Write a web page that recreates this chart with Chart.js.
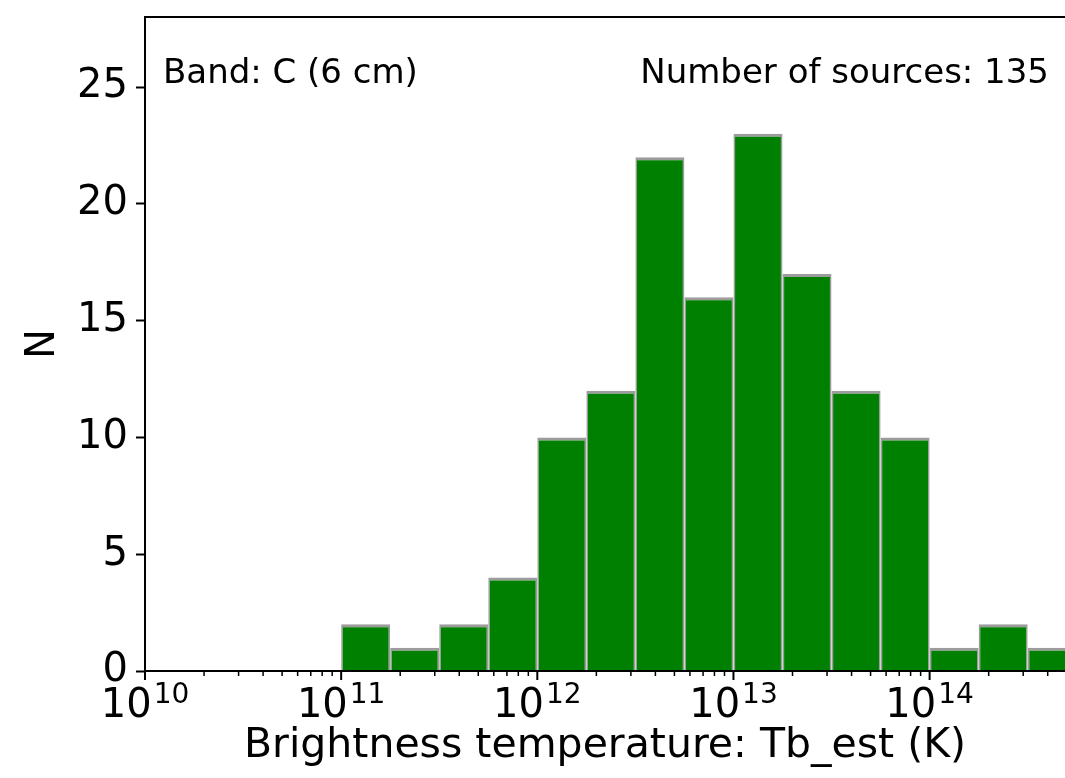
<!DOCTYPE html>
<html>
<head>
<meta charset="utf-8">
<script src="https://cdn.jsdelivr.net/npm/chart.js@4"></script>
<style>
  body { margin: 0; background: #fff; }
  canvas { display: block; }
</style>
</head>
<body>
<canvas id="histChart" width="1065" height="778"></canvas>
<script>
// histogram bin edges, in log10(Tb / K)
var binEdges = [11.0, 11.25, 11.5, 11.75, 12.0, 12.25, 12.5, 12.75, 13.0, 13.25, 13.5, 13.75, 14.0, 14.25, 14.5, 14.75];
var counts = [2, 1, 2, 4, 10, 12, 22, 16, 23, 17, 12, 10, 1, 2, 1];
var decades = [10, 11, 12, 13, 14];
var yTicks = [0, 5, 10, 15, 20, 25];
var xMin = 1e10, xMax = 4.9e14, yMax = 28;
var bandLabel = 'Band: C (6 cm)';
var sourcesLabel = 'Number of sources: 135';
var xTitle = 'Brightness temperature: Tb_est (K)';
var yTitle = 'N';

Chart.defaults.font.family = '"DejaVu Sans"';
Chart.defaults.color = '#000';

// one bar per bin, placed at the log-centre of the bin
var points = [];
for (var i = 0; i < counts.length; i++) {
    points.push({ x: Math.pow(10, (binEdges[i] + binEdges[i + 1]) / 2), y: counts[i] });
}

var extras = {
    id: 'extras',
    afterDraw: function (chart) {
        var ctx = chart.ctx, area = chart.chartArea, xs = chart.scales.x;
        ctx.save();
        ctx.strokeStyle = '#000';
        ctx.fillStyle = '#000';

        // top spine
        ctx.lineWidth = 2;
        ctx.beginPath();
        ctx.moveTo(area.left - 1, area.top);
        ctx.lineTo(area.right, area.top);
        ctx.stroke();

        // x ticks: major at decades, minor at 2..9
        decades.forEach(function (e) {
            for (var m = 1; m <= 9; m++) {
                var v = m * Math.pow(10, e);
                if (v < xMin || v > xMax) continue;
                var px = xs.getPixelForValue(v);
                ctx.lineWidth = m === 1 ? 2 : 1.5;
                ctx.beginPath();
                ctx.moveTo(px, area.bottom);
                ctx.lineTo(px, area.bottom + (m === 1 ? 9 : 5));
                ctx.stroke();
            }
        });

        // x tick labels as 10^e
        ctx.textBaseline = 'alphabetic';
        ctx.textAlign = 'left';
        decades.forEach(function (e) {
            var px = xs.getPixelForValue(Math.pow(10, e));
            ctx.font = '40px "DejaVu Sans"';
            var wBase = ctx.measureText('10').width;
            ctx.font = '28px "DejaVu Sans"';
            var wExp = ctx.measureText(String(e)).width;
            var x0 = px - (wBase + 2 + wExp) / 2;
            ctx.font = '40px "DejaVu Sans"';
            ctx.fillText('10', x0, area.bottom + 46);
            ctx.font = '28px "DejaVu Sans"';
            ctx.fillText(String(e), x0 + wBase + 2, area.bottom + 32);
        });

        // annotations
        ctx.font = '34px "DejaVu Sans"';
        ctx.fillText(bandLabel, area.left + 18, area.top + 66);
        ctx.textAlign = 'right';
        ctx.fillText(sourcesLabel, area.right - 16, area.top + 66);
        ctx.restore();
    }
};

new Chart(document.getElementById('histChart'), {
    type: 'bar',
    data: {
        datasets: [{
            data: points,
            backgroundColor: '#008000',
            borderColor: '#9c9c9c',
            borderWidth: { top: 3, left: 1.6, right: 1.6, bottom: 0 },
            borderSkipped: 'start',
            inflateAmount: 0,
            barPercentage: 1,
            categoryPercentage: 1
        }]
    },
    options: {
        responsive: false,
        animation: false,
        devicePixelRatio: 1,
        layout: { padding: { top: 17, left: 0, right: 0, bottom: 0 } },
        plugins: {
            legend: { display: false },
            tooltip: { enabled: false }
        },
        scales: {
            x: {
                type: 'logarithmic',
                min: xMin,
                max: xMax,
                offset: false,
                grid: { display: false },
                border: { display: true, color: '#000', width: 2, z: 1 },
                ticks: { display: false },
                afterBuildTicks: function (scale) {
                    scale.ticks = decades.map(function (e) { return { value: Math.pow(10, e), major: true }; });
                },
                afterFit: function (scale) {
                    scale.height = 107;
                    scale.paddingLeft = 0;
                    scale.paddingRight = 0;
                },
                title: {
                    display: true,
                    text: xTitle,
                    color: '#000',
                    font: { size: 41 },
                    padding: { top: 0, bottom: 7 }
                }
            },
            y: {
                min: 0,
                max: yMax,
                ticks: { font: { size: 40 }, color: '#000', padding: 8, includeBounds: false },
                afterBuildTicks: function (scale) {
                    scale.ticks = yTicks.map(function (v) { return { value: v }; });
                },
                grid: { drawOnChartArea: false, drawTicks: true, tickLength: 9, tickColor: '#000', tickWidth: 2 },
                border: { color: '#000', width: 2, z: 1 },
                afterFit: function (scale) {
                    scale.width = 145;
                    scale.paddingTop = 0;
                    scale.paddingBottom = 0;
                },
                title: {
                    display: true,
                    text: yTitle,
                    color: '#000',
                    font: { size: 40 },
                    padding: { top: 20, bottom: 0 }
                }
            }
        }
    },
    plugins: [extras]
});
</script>
</body>
</html>
